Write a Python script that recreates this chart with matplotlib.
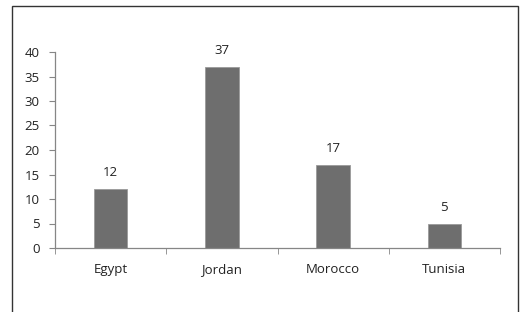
import matplotlib
matplotlib.use("Agg")
import matplotlib.pyplot as plt
from matplotlib.patches import Rectangle
import numpy as np

countries = ['Egypt', 'Jordan', 'Morocco', 'Tunisia']
values = [12, 37, 17, 5]
yticks = [0, 5, 10, 15, 20, 25, 30, 35, 40]

plt.rcParams['font.family'] = ['Open Sans', 'DejaVu Sans']

fig = plt.figure(figsize=(5.28, 3.12), dpi=100)
ax = fig.add_axes([55/528, 64/312, 445/528, 196/312])

x = np.arange(len(countries))
ax.bar(x, values, width=0.3, color='#6e6e6e', edgecolor='#9a9a9a', linewidth=0.6)
for xi, v in zip(x, values):
    ax.text(xi, v + 2.0, str(v), ha='center', va='bottom', fontsize=9.5, color='#222222')

ax.set_xlim(-0.5, 3.5)
ax.set_ylim(0, 40)
ax.set_yticks(yticks)
ax.set_xticks(x)
ax.set_xticklabels(countries)
ax.set_xticks(np.arange(-0.5, 4, 1), minor=True)
ax.tick_params(axis='x', which='major', length=0, pad=11, labelsize=9.5, labelcolor='#222222')
ax.tick_params(axis='x', which='minor', length=4, direction='out', color='#868686')
ax.tick_params(axis='y', length=4, direction='out', color='#868686', labelsize=9.5, labelcolor='#222222', pad=7)

for s in ['top', 'right']:
    ax.spines[s].set_visible(False)
for s in ['left', 'bottom']:
    ax.spines[s].set_color('#868686')
    ax.spines[s].set_linewidth(0.9)

fig.add_artist(Rectangle((12/528, -0.1), 506/528, 1.1 - 6/312, transform=fig.transFigure,
                         fill=False, edgecolor='#333333', linewidth=1.0))

fig.savefig('out.png', dpi=100)
